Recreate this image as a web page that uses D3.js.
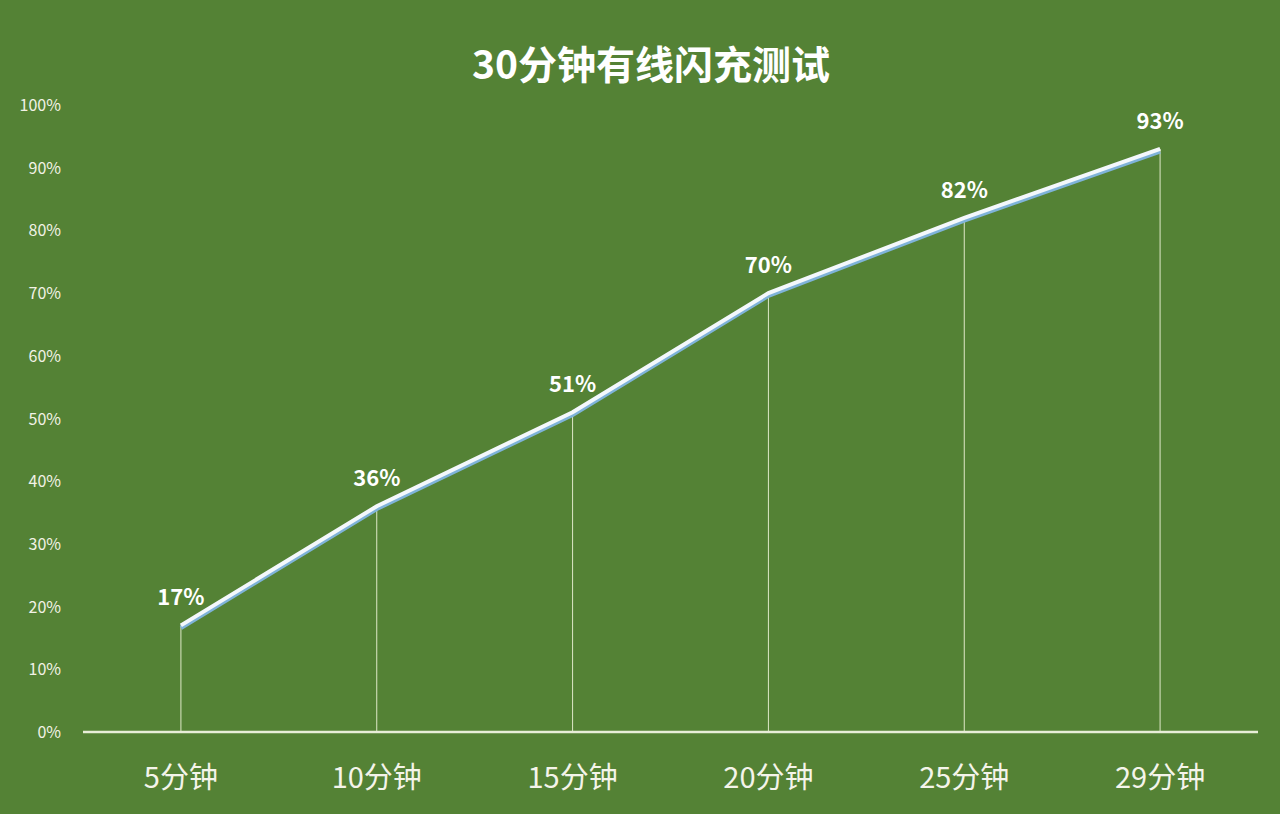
<!DOCTYPE html>
<html><head><meta charset="utf-8">
<script src="https://cdn.jsdelivr.net/npm/d3@7/dist/d3.min.js"></script>
<style>body{margin:0;background:#548235;}</style></head>
<body><svg id="c" width="1280" height="814"></svg>
<script>
const categories = ["5分钟","10分钟","15分钟","20分钟","25分钟","29分钟"];
const values = [17,36,51,70,82,93];
const yTicks = [0,10,20,30,40,50,60,70,80,90,100];
const title = "30分钟有线闪充测试";

const svg = d3.select("#c");
const font = "'Noto Sans CJK SC','Noto Sans',sans-serif";
svg.append("rect").attr("width",1280).attr("height",814).attr("fill","#548235");
const x = d3.scaleBand().domain(categories).range([83,1258]).padding(0);
const y = d3.scaleLinear().domain([0,100]).range([732,105]);
const cx = d => x(d)+x.bandwidth()/2;

svg.append("text").attr("x",651).attr("y",79).attr("text-anchor","middle")
  .attr("fill","#fff").attr("font-family",font).attr("font-weight","bold").attr("font-size",39).text(title);

svg.selectAll(".yt").data(yTicks).enter().append("text")
  .attr("x",61).attr("y",d=>y(d)+6).attr("text-anchor","end")
  .attr("fill","#f2f2e6").attr("font-family",font).attr("font-size",16).text(d=>d+"%");

svg.selectAll(".dl").data(categories).enter().append("line")
  .attr("x1",cx).attr("x2",cx).attr("y1",(d,i)=>y(values[i])).attr("y2",y(0))
  .attr("stroke","#dfe8c8").attr("stroke-width",1);

svg.append("line").attr("x1",83).attr("x2",1258).attr("y1",y(0)).attr("y2",y(0))
  .attr("stroke","#e8eed8").attr("stroke-width",2.5);

const line = d3.line().x((d,i)=>cx(categories[i])).y(d=>y(d));
svg.append("path").datum(values).attr("d",line).attr("fill","none")
  .attr("stroke","#7fb3d9").attr("stroke-width",4.5).attr("transform","translate(0,2.5)");
svg.append("path").datum(values).attr("d",line).attr("fill","none")
  .attr("stroke","#f4f8fc").attr("stroke-width",4);

svg.selectAll(".lb").data(values).enter().append("text")
  .attr("x",(d,i)=>cx(categories[i])).attr("y",d=>y(d)-20).attr("text-anchor","middle")
  .attr("fill","#fff").attr("font-family",font).attr("font-weight","bold").attr("font-size",22).text(d=>d+"%");

svg.selectAll(".xl").data(categories).enter().append("text")
  .attr("x",cx).attr("y",788).attr("text-anchor","middle")
  .attr("fill","#f4f4ea").attr("font-family",font).attr("font-size",29).text(d=>d);
</script></body></html>
